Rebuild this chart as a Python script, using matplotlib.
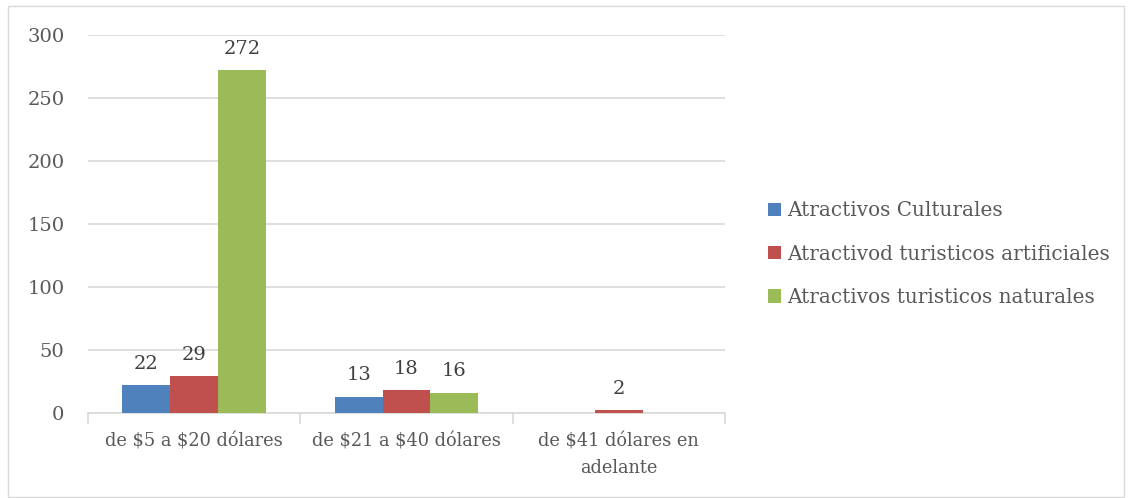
import numpy as np
import matplotlib
matplotlib.use("Agg")
from matplotlib import pyplot as plt
import matplotlib.patches as patches

# datos
categorias = ["de \\$5 a \\$20 dólares", "de \\$21 a \\$40 dólares", "de \\$41 dólares en\nadelante"]
series = ["Atractivos Culturales", "Atractivod turisticos artificiales", "Atractivos turisticos naturales"]
culturales = [22, 13, 0]
artificiales = [29, 18, 2]
naturales = [272, 16, 0]
colores = ["#4f81bd", "#c0504d", "#9bbb59"]

plt.rcParams['font.family'] = ['DejaVu Serif']

fig = plt.figure(figsize=(11.32, 4.98), dpi=100)
ax = fig.add_axes([0.0777, 0.1707, 0.5627, 0.759])

# marco exterior
fig.patches.append(patches.Rectangle((0.007, 0.002), 0.986, 0.985, transform=fig.transFigure,
                                     fill=False, edgecolor="#d9d9d9", linewidth=1))

x = np.arange(len(categorias))
w = 0.225
for i, (vals, nombre) in enumerate(zip([culturales, artificiales, naturales], series)):
    bars = ax.bar(x + (i - 1) * w, vals, w, color=colores[i], label=nombre, zorder=3)
    for b, v in zip(bars, vals):
        if v > 0:
            ax.text(b.get_x() + b.get_width() / 2, v + 10, str(v), ha="center", va="bottom",
                    fontsize=14, color="#404040")

ax.set_ylim(0, 300)
ax.set_xlim(-0.5, 2.5)
ax.set_yticks(range(0, 301, 50))
ax.yaxis.grid(True, color="#d9d9d9", linewidth=1.2, zorder=0)
for s in ["top", "right", "left"]:
    ax.spines[s].set_visible(False)
ax.spines["bottom"].set_color("#d9d9d9")
ax.spines["bottom"].set_linewidth(1.2)
ax.tick_params(axis="y", length=0, labelsize=14, labelcolor="#595959", pad=17)
ax.set_xticks([-0.5, 0.5, 1.5, 2.5])
ax.set_xticklabels([])
ax.set_xticks(x, minor=True)
ax.set_xticklabels(categorias, minor=True, linespacing=1.6)
ax.tick_params(axis="x", which="major", length=8, color="#d9d9d9", width=1.2)
ax.tick_params(axis="x", which="minor", length=0, labelsize=12.8, labelcolor="#595959", pad=14)

ax.legend(loc="center left", bbox_to_anchor=(1.04, 0.42), frameon=False, fontsize=14.4,
          labelcolor="#595959", handlelength=0.65, handleheight=0.65, handletextpad=0.3,
          labelspacing=1.22)

fig.savefig("out.png", dpi=100)
